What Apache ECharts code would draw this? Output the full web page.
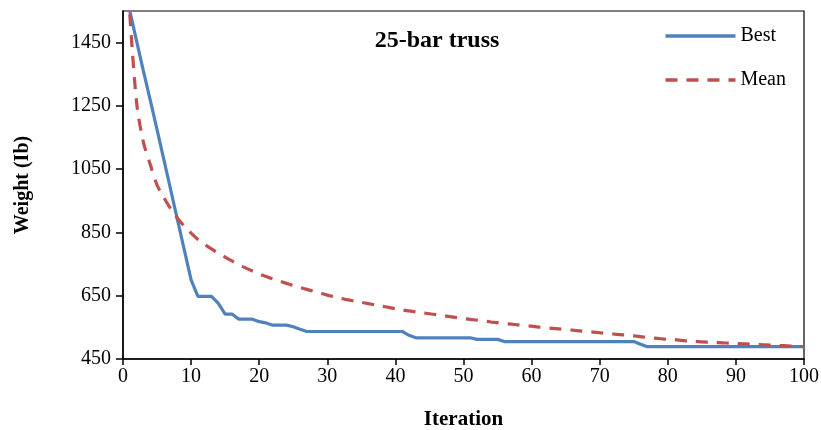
<!DOCTYPE html>
<html>
<head>
<meta charset="utf-8">
<script src="https://cdn.jsdelivr.net/npm/echarts@6/dist/echarts.min.js"></script>
<style>html,body{margin:0;padding:0;background:#fff;}#c{width:821px;height:430px;}</style>
</head>
<body>
<div id="c"></div>
<script>
var titleText = '25-bar truss';
var xName = 'Iteration';
var yName = 'Weight (Ib)';
var seriesNames = ['Best', 'Mean'];
var iterations = [];
for (var i = 1; i <= 100; i++) iterations.push(i);
var best = [1550,1455,1360,1268,1175,1080,985,890,795,700,
  648,648,648,626,592,592,576,576,576,568,
  564,557,557,557,552,544,537,537,537,537,
  537,537,537,537,537,537,537,537,537,537,
  537,525,517,517,517,517,517,517,517,517,
  517,512,512,512,512,505,505,505,505,505,
  505,505,505,505,505,505,505,505,505,505,
  505,505,505,505,505,497,489,489,489,489,
  489,489,489,489,489,489,489,489,489,489,
  489,489,489,489,489,489,489,489,489,489];
var mean = [1540,1260,1135,1065,1000,960,925,895,870,848,
  828,812,798,784,772,760,748,738,728,719,
  711,703,696,689,682,676,670,664,658,652,
  647,642,637,633,629,625,621,617,613,609,
  605,602,599,596,593,590,587,584,581,578,
  575,573,570,567,565,562,560,558,556,554,
  551,549,547,545,543,541,539,537,535,533,
  531,529,527,525,523,521,518,516,514,512,
  511,509,507,506,504,503,502,501,500,499,
  498,497,496,495,494,493,492,491,490,489];
var yMin = 450, yMax = 1550, yStep = 200;
var xMin = 0, xMax = 100, xStep = 10;

function pairs(arr){ return iterations.map(function(x, k){ return [x, arr[k]]; }); }

var font = '"Liberation Serif","Times New Roman",serif';
var chart = echarts.init(document.getElementById('c'));
chart.setOption({
  backgroundColor: '#fff',
  animation: false,
  title: {
    text: titleText, left: 432, top: 24, textAlign: 'center',
    textStyle: { fontFamily: font, fontWeight: 'bold', fontSize: 24, color: '#000' }
  },
  legend: {
    orient: 'vertical', right: 30, top: 21, itemWidth: 70, itemHeight: 14, itemGap: 24,
    textStyle: { fontFamily: font, fontSize: 20, color: '#000', padding: [0,0,0,0] },
    itemStyle: { opacity: 0 },
    lineStyle: { width: 3.5 },
    data: seriesNames
  },
  grid: { left: 123, right: 17, top: 11, bottom: 71, show: true, borderColor: '#000', borderWidth: 1.2,
    containLabel: false, outerBoundsMode: 'none' },
  xAxis: {
    type: 'value', min: xMin, max: xMax, interval: xStep,
    name: xName, nameLocation: 'middle', nameGap: 50,
    nameTextStyle: { fontFamily: font, fontWeight: 'bold', fontSize: 21, color: '#000' },
    axisLine: { lineStyle: { color: '#000', width: 1.5 } },
    axisTick: { show: true, inside: false, length: 6, lineStyle: { color: '#000', width: 1.5 } },
    axisLabel: { fontFamily: font, fontSize: 20, color: '#000', margin: 8 },
    splitLine: { show: false }
  },
  yAxis: {
    type: 'value', min: yMin, max: yMax, interval: yStep,
    name: yName, nameLocation: 'middle', nameGap: 90, nameRotate: 90,
    nameTextStyle: { fontFamily: font, fontWeight: 'bold', fontSize: 20, color: '#000' },
    axisLine: { show: true, lineStyle: { color: '#000', width: 1.5 } },
    axisTick: { show: true, inside: false, length: 7, lineStyle: { color: '#000', width: 1.5 } },
    axisLabel: { fontFamily: font, fontSize: 20, color: '#000', margin: 12, showMaxLabel: false,
      formatter: function (v) { return String(v); } },
    splitLine: { show: false }
  },
  series: [
    { name: seriesNames[0], type: 'line', data: pairs(best), symbol: 'none', showSymbol: false,
      lineStyle: { color: '#4F81BD', width: 3.2 }, itemStyle: { color: '#4F81BD' } },
    { name: seriesNames[1], type: 'line', data: pairs(mean), symbol: 'none', showSymbol: false, smooth: 0.3,
      lineStyle: { color: '#C0504D', width: 3.2, type: [12, 9] }, itemStyle: { color: '#C0504D' } }
  ]
});
</script>
</body>
</html>
